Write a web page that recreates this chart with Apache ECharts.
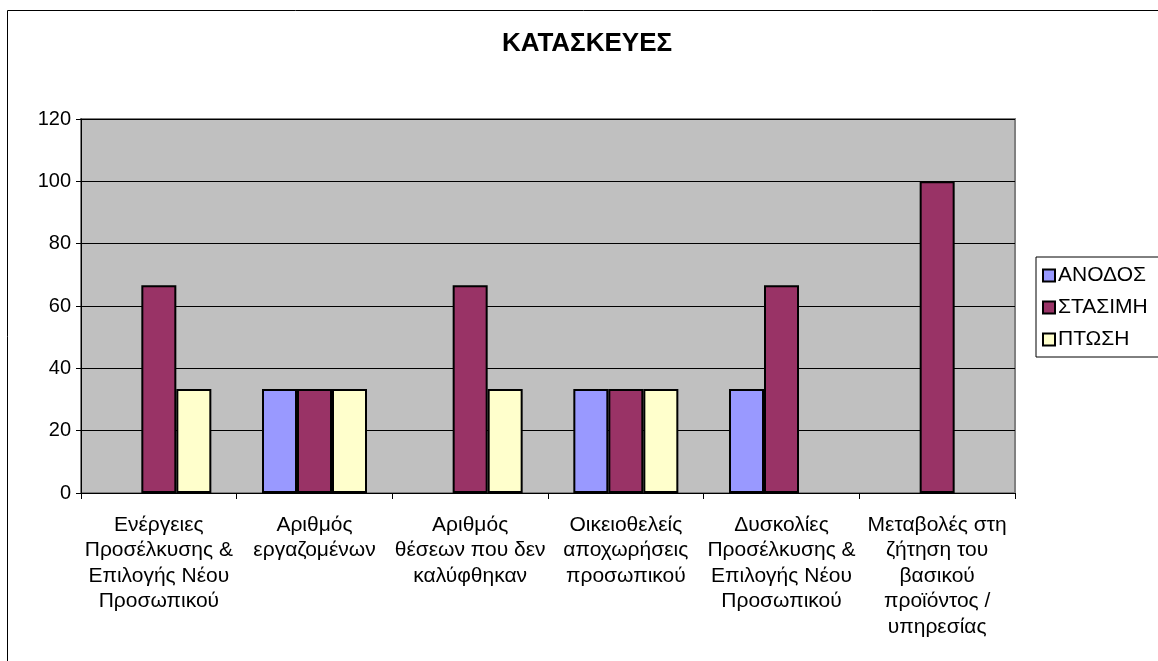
<!DOCTYPE html>
<html>
<head>
<meta charset="utf-8">
<script src="https://cdn.jsdelivr.net/npm/echarts@6/dist/echarts.min.js"></script>
<style>
html, body { margin: 0; padding: 0; background: #fff; }
#chart { width: 1158px; height: 661px; }
</style>
</head>
<body>
<div id="chart"></div>
<script>
// categories (labels wrapped as in the original)
const categories = [
  'Ενέργειες\nΠροσέλκυσης &\nΕπιλογής Νέου\nΠροσωπικού',
  'Αριθμός\nεργαζομένων',
  'Αριθμός\nθέσεων που δεν\nκαλύφθηκαν',
  'Οικειοθελείς\nαποχωρήσεις\nπροσωπικού',
  'Δυσκολίες\nΠροσέλκυσης &\nΕπιλογής Νέου\nΠροσωπικού',
  'Μεταβολές στη\nζήτηση του\nβασικού\nπροϊόντος /\nυπηρεσίας'
];
const seriesNames = ['ΑΝΟΔΟΣ', 'ΣΤΑΣΙΜΗ', 'ΠΤΩΣΗ'];
const anodos = [0, 33.33, 0, 33.33, 33.33, 0];
const stasimi = [66.67, 33.33, 66.67, 33.33, 66.67, 100];
const ptosi = [33.33, 33.33, 33.33, 33.33, 0, 0];
const colors = ['#9999FF', '#993366', '#FFFFCC'];

const font = '"Liberation Sans", Arial, sans-serif';
const chart = echarts.init(document.getElementById('chart'));

function bar(name, data, color) {
  return {
    name, type: 'bar',
    // zero bars have no visible outline in the original
    data: data.map(v => v === 0 ? { value: 0, itemStyle: { borderWidth: 0 } } : v),
    barWidth: 35, barGap: '0%',
    itemStyle: { color, borderColor: '#000', borderWidth: 2 },
    emphasis: { disabled: true }
  };
}

chart.setOption({
  animation: false,
  textStyle: { fontFamily: font },
  title: {
    text: 'ΚΑΤΑΣΚΕΥΕΣ', left: 502, top: 31, padding: 0,
    textStyle: { fontFamily: font, fontSize: 26, fontWeight: 'bold', color: '#000' }
  },
  graphic: [{
    type: 'rect', silent: true,
    shape: { x: 7.5, y: 10.5, width: 1300, height: 800 },
    style: { fill: null, stroke: '#000', lineWidth: 1 }
  }],
  legend: {
    orient: 'vertical', left: 1036, top: 257,
    data: seriesNames,
    borderColor: '#000', borderWidth: 1,
    padding: [8, 14, 7, 6], itemGap: 11,
    itemWidth: 12, itemHeight: 12, icon: 'rect',
    itemStyle: { borderColor: '#000', borderWidth: 2 },
    textStyle: { fontFamily: font, fontSize: 21, color: '#000', padding: [0, 0, 0, -2] }
  },
  grid: {
    left: 81, top: 119, right: 143, bottom: 168,
    show: true, backgroundColor: '#C0C0C0', borderColor: '#808080', borderWidth: 2
  },
  xAxis: {
    type: 'category', data: categories,
    axisLine: { lineStyle: { color: '#000', width: 1 } },
    axisTick: { show: true, length: 6, lineStyle: { color: '#000' } },
    axisLabel: { interval: 0, margin: 19, fontSize: 21, lineHeight: 25.5, color: '#000', fontFamily: font }
  },
  yAxis: {
    type: 'value', min: 0, max: 120, interval: 20,
    axisLine: { show: true, lineStyle: { color: '#000', width: 1 } },
    axisTick: { show: true, length: 5, lineStyle: { color: '#000' } },
    axisLabel: { margin: 10, fontSize: 20, color: '#000', fontFamily: font },
    splitLine: { lineStyle: { color: '#000', width: 1 } }
  },
  series: [
    bar(seriesNames[0], anodos, colors[0]),
    bar(seriesNames[1], stasimi, colors[1]),
    bar(seriesNames[2], ptosi, colors[2])
  ]
});
</script>
</body>
</html>
